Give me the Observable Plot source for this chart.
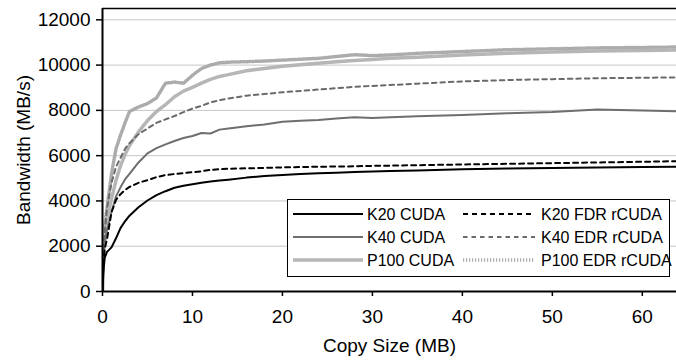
<!DOCTYPE html>
<html>
<head>
<meta charset="utf-8">
<script src="https://cdn.jsdelivr.net/npm/d3@7"></script>
<script src="https://cdn.jsdelivr.net/npm/@observablehq/plot@0.6"></script>
<style>
  html, body { margin: 0; padding: 0; background: #fff; }
  #chart { position: relative; width: 676px; height: 361px; }
</style>
</head>
<body>
<div id="chart"></div>
<script>
const sizes       = [0, 0.1, 0.25, 0.5, 1, 1.5, 2, 2.5, 3, 4, 5, 6, 7, 8, 9, 10, 11, 12, 13, 14, 16, 18, 20, 22, 24, 26, 28, 30, 32, 35, 40, 45, 50, 55, 60, 64];
const k20Cuda     = [0, 900, 1500, 1750, 1950, 2350, 2800, 3100, 3350, 3720, 4020, 4260, 4430, 4580, 4670, 4740, 4800, 4860, 4900, 4940, 5030, 5100, 5150, 5190, 5220, 5250, 5280, 5300, 5320, 5350, 5400, 5430, 5460, 5480, 5500, 5510];
const k20Rcuda    = [0, 1200, 1900, 2300, 3500, 4050, 4300, 4480, 4620, 4800, 4920, 5050, 5140, 5190, 5230, 5270, 5310, 5370, 5400, 5420, 5440, 5460, 5480, 5500, 5510, 5520, 5530, 5550, 5560, 5580, 5610, 5640, 5670, 5700, 5730, 5760];
const k40Cuda     = [0, 1500, 2100, 2700, 3500, 4200, 4600, 4950, 5200, 5700, 6100, 6330, 6500, 6650, 6780, 6870, 7000, 6980, 7150, 7200, 7300, 7380, 7500, 7540, 7580, 7640, 7700, 7660, 7700, 7740, 7800, 7870, 7930, 8040, 8000, 7960];
const k40Rcuda    = [0, 1700, 2600, 3700, 4800, 5500, 5900, 6300, 6550, 6950, 7200, 7450, 7600, 7750, 7920, 8080, 8200, 8350, 8450, 8520, 8650, 8720, 8800, 8860, 8920, 8980, 9040, 9080, 9120, 9180, 9280, 9340, 9380, 9420, 9440, 9460];
const p100Cuda    = [0, 1700, 2500, 3200, 4100, 4900, 5550, 6050, 6450, 7050, 7550, 7950, 8250, 8600, 8850, 9020, 9200, 9370, 9500, 9580, 9750, 9850, 9950, 10020, 10080, 10150, 10200, 10250, 10300, 10350, 10450, 10520, 10580, 10620, 10650, 10670];
const p100Rcuda   = [0, 2000, 2900, 3700, 5200, 6300, 6900, 7450, 7950, 8150, 8300, 8550, 9200, 9250, 9200, 9550, 9850, 10000, 10100, 10130, 10150, 10180, 10220, 10260, 10300, 10380, 10460, 10420, 10450, 10520, 10600, 10680, 10720, 10760, 10780, 10800];

const seriesNames = ["K20 CUDA", "K20 FDR rCUDA", "K40 CUDA", "K40 EDR rCUDA", "P100 CUDA", "P100 EDR rCUDA"];
const seriesValues = [k20Cuda, k20Rcuda, k40Cuda, k40Rcuda, p100Cuda, p100Rcuda];
const yTicks = [0, 2000, 4000, 6000, 8000, 10000, 12000];
const xTicks = [0, 10, 20, 30, 40, 50, 60];

const styles = {
  "K20 CUDA":       {stroke: "#000000", strokeWidth: 2,   dash: null},
  "K20 FDR rCUDA":  {stroke: "#000000", strokeWidth: 2,   dash: "5,4"},
  "K40 CUDA":       {stroke: "#6e6e6e", strokeWidth: 2,   dash: null},
  "K40 EDR rCUDA":  {stroke: "#6a6a6a", strokeWidth: 2,   dash: "4.5,4"},
  "P100 CUDA":      {stroke: "#b6b6b6", strokeWidth: 3.5, dash: null},
  "P100 EDR rCUDA": {stroke: "#acacac", strokeWidth: 3.5, dash: "1.2,1.8"}
};

const rows = seriesNames.map((name, k) => sizes.map((s, i) => ({size: s, bw: seriesValues[k][i], series: name})));
const drawOrder = [5, 4, 3, 2, 1, 0];

const font = "'Liberation Sans', Arial, sans-serif";

const plot = Plot.plot({
  width: 676,
  height: 361,
  marginLeft: 102,
  marginRight: 0,
  marginTop: 8,
  marginBottom: 70,
  style: {fontFamily: font, fontSize: "19px", color: "#000", background: "#fff"},
  x: {domain: [0, 63.8]},
  y: {domain: [0, 12500]},
  marks: [
    Plot.ruleY(yTicks.filter(d => d > 0), {stroke: "#c6c6c6", strokeWidth: 1}),
    ...drawOrder.map(k => {
      const st = styles[seriesNames[k]];
      return Plot.line(rows[k], {x: "size", y: "bw", stroke: st.stroke, strokeWidth: st.strokeWidth,
        strokeDasharray: st.dash, clip: true, strokeLinejoin: "round"});
    }),
    Plot.ruleY([12500], {stroke: "#000", strokeWidth: 1.5}),
    Plot.ruleY([0], {stroke: "#000", strokeWidth: 2}),
    Plot.ruleX([0], {stroke: "#000", strokeWidth: 2}),
    Plot.axisY({ticks: yTicks, tickSize: 6, tickPadding: 6, tickFormat: d3.format("d"), fontSize: 19,
      label: "Bandwidth (MB/s)", labelAnchor: "center", labelArrow: "none", labelOffset: 86, strokeWidth: 1.5}),
    Plot.axisX({ticks: xTicks, tickSize: 5, tickPadding: 13, tickFormat: d3.format("d"), fontSize: 19,
      label: "Copy Size (MB)", labelAnchor: "center", labelArrow: "none", labelOffset: 60, strokeWidth: 1.5})
  ]
});

document.getElementById("chart").appendChild(plot);

// Legend drawn into the SVG
const svg = d3.select(plot);
const lg = svg.append("g").attr("font-family", font).style("font-size", "16px").attr("text-anchor", "start");
const boxX = 287, boxY = 199, boxW = 382, boxH = 77;
lg.append("rect").attr("x", boxX + 0.5).attr("y", boxY + 0.5).attr("width", boxW).attr("height", boxH)
  .attr("fill", "#fff").attr("stroke", "#000").attr("stroke-width", 1);
const legendOrder = [[0, 1], [2, 3], [4, 5]];
const rowY = [214, 237, 260];
const cols = [{x1: 293, x2: 363, tx: 367}, {x1: 463, x2: 535, tx: 541}];
legendOrder.forEach((pair, r) => {
  pair.forEach((k, c) => {
    const st = styles[seriesNames[k]];
    const col = cols[c];
    lg.append("line").attr("x1", col.x1).attr("x2", col.x2).attr("y1", rowY[r]).attr("y2", rowY[r])
      .attr("stroke", st.stroke).attr("stroke-width", st.strokeWidth)
      .attr("stroke-dasharray", st.dash);
    lg.append("text").attr("x", col.tx).attr("y", rowY[r]).attr("dy", "0.35em").attr("fill", "#000")
      .attr("text-anchor", "start").text(seriesNames[k]);
  });
});
</script>
</body>
</html>
